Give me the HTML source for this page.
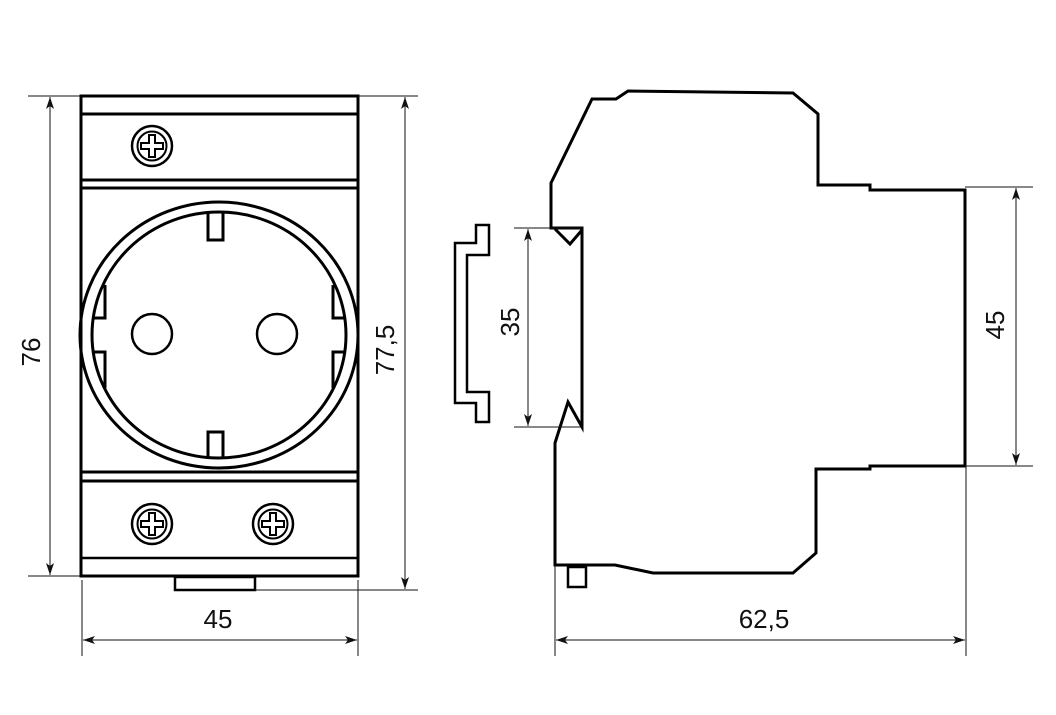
<!DOCTYPE html>
<html><head><meta charset="utf-8"><style>
html,body{margin:0;padding:0;background:#fff;}
svg{display:block;}
text{font-family:"Liberation Sans",sans-serif;font-size:26px;fill:#111;}
</style></head><body>
<svg width="1056" height="715" viewBox="0 0 1056 715" xmlns="http://www.w3.org/2000/svg">
<defs>
<marker id="a" viewBox="0 0 12 8" refX="12" refY="4" markerWidth="12" markerHeight="8" orient="auto-start-reverse" markerUnits="userSpaceOnUse"><path d="M0,0 L12,4 L0,8 L3,4 Z" fill="#111"/></marker>
<g id="scr"><circle r="20" fill="#fff" stroke="#000" stroke-width="2.5"/><circle r="14.5" fill="none" stroke="#000" stroke-width="2"/><path d="M-3,-11 H3 V-3 H11 V3 H3 V11 H-3 V3 H-11 V-3 H-3 Z" fill="none" stroke="#000" stroke-width="2"/></g>
</defs>
<g fill="none" stroke="#000" stroke-width="3">
<!-- front view -->
<rect x="81" y="96" width="277" height="480"/>
<line x1="81" y1="114" x2="358" y2="114"/>
<line x1="81" y1="180" x2="358" y2="180"/>
<line x1="81" y1="188" x2="358" y2="188"/>
<line x1="81" y1="472" x2="358" y2="472"/>
<line x1="81" y1="481" x2="358" y2="481"/>
<line x1="81" y1="558" x2="358" y2="558" stroke-width="2.5"/>
<rect x="175" y="577" width="80" height="13" stroke-width="2.5"/>
<ellipse cx="219" cy="335" rx="139" ry="133"/>
<ellipse cx="219" cy="335" rx="127" ry="123"/>
<path d="M105,285 V318 H94 M94,352 H105 V388"/>
<path d="M333,285 V318 H344 M344,352 H333 V388"/>
<path d="M208,212 V240 H223 V212"/>
<path d="M208,458 V432 H223 V458"/>
<circle cx="152" cy="334" r="20" stroke-width="2.5"/>
<circle cx="277" cy="334" r="20" stroke-width="2.5"/>
<!-- side view -->
<path d="M592,99 H616 L628,91 L793,93 L818,114 V185 H870 V190 H965 V466 H870 V469 H816 V553 L793,573 H653 L615,565 H555 V443 L568,402 L582,427 V228 H551 V183 Z" stroke-linejoin="miter"/>
<path d="M555,229 L570,244 L582,230"/>
<rect x="568" y="567" width="18" height="20" stroke-width="2.5"/>
<path d="M476,225 H489 V255 H467 V392 H489 V422 H476 V403 H455 V243 H476 Z" stroke-width="2.5"/>
</g>
<g transform="translate(0,0)"><use href="#scr" x="152" y="146"/><use href="#scr" x="152" y="524"/><use href="#scr" x="273" y="524"/></g>
<g fill="none" stroke="#111" stroke-width="1">
<line x1="28" y1="96" x2="80" y2="96"/><line x1="28" y1="576" x2="80" y2="576"/>
<line x1="50" y1="97" x2="50" y2="575" marker-start="url(#a)" marker-end="url(#a)"/>
<line x1="358" y1="96" x2="418" y2="96"/><line x1="255" y1="590" x2="418" y2="590"/>
<line x1="405" y1="97" x2="405" y2="589" marker-start="url(#a)" marker-end="url(#a)"/>
<line x1="82" y1="580" x2="82" y2="656"/><line x1="358" y1="580" x2="358" y2="656"/>
<line x1="83" y1="640" x2="357" y2="640" marker-start="url(#a)" marker-end="url(#a)"/>
<line x1="514" y1="228" x2="583" y2="228"/><line x1="514" y1="427" x2="583" y2="427"/>
<line x1="528" y1="229" x2="528" y2="426" marker-start="url(#a)" marker-end="url(#a)"/>
<line x1="965" y1="187" x2="1033" y2="187"/><line x1="965" y1="466" x2="1033" y2="466"/>
<line x1="1016" y1="188" x2="1016" y2="465" marker-start="url(#a)" marker-end="url(#a)"/>
<line x1="555" y1="565" x2="555" y2="656"/><line x1="966" y1="466" x2="966" y2="656"/>
<line x1="556" y1="640" x2="965" y2="640" marker-start="url(#a)" marker-end="url(#a)"/>
</g>
<text x="218" y="628" text-anchor="middle">45</text>
<text x="764" y="628" text-anchor="middle">62,5</text>
<text transform="translate(40,352) rotate(-90)" text-anchor="middle">76</text>
<text transform="translate(394,350) rotate(-90)" text-anchor="middle">77,5</text>
<text transform="translate(519,322) rotate(-90)" text-anchor="middle">35</text>
<text transform="translate(1004,325) rotate(-90)" text-anchor="middle">45</text>
</svg>
</body></html>
